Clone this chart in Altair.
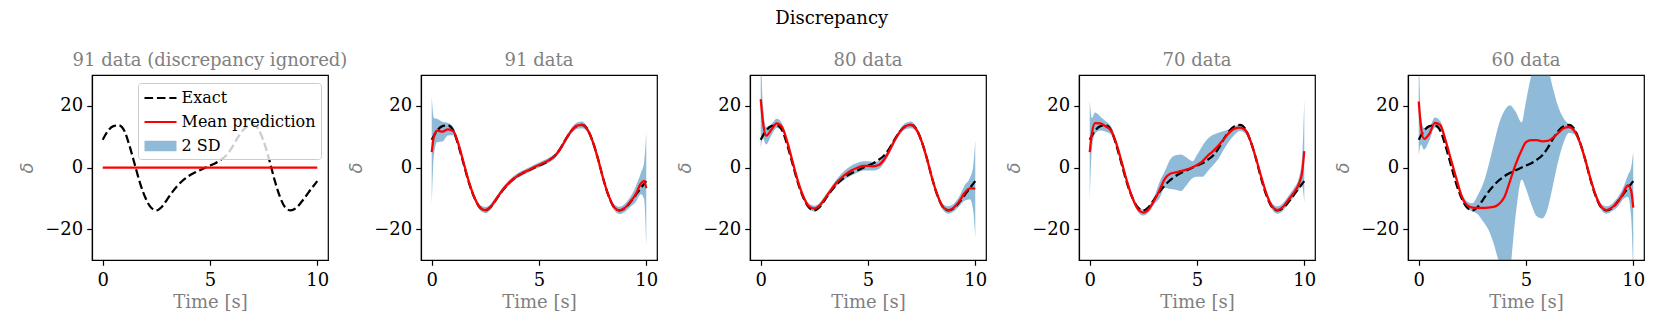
import altair as alt
import pandas as pd

# ---------------- data ----------------
T = [0, 0.1, 0.25, 0.5, 0.75, 1.0, 1.25, 1.5, 1.75, 2.0, 2.25, 2.5, 2.75, 3.0,
     3.25, 3.5, 3.75, 4.0, 4.25, 4.5, 4.8, 5.0, 5.25, 5.5, 5.75, 6.0, 6.25, 6.5,
     6.75, 7.0, 7.25, 7.5, 7.75, 8.0, 8.25, 8.5, 8.75, 9.0, 9.25, 9.5, 9.75, 9.9, 10.0]

EXACT = [9.0, 10.3, 11.9, 13.4, 13.7, 12.0, 7.0, 0.8, -5.3, -10.0, -13.0, -13.9, -12.8,
         -10.4, -7.9, -5.8, -4.1, -2.8, -1.8, -1.0, 0.0, 0.6, 1.4, 2.5, 3.9, 6.2, 9.2,
         11.8, 13.4, 13.8, 12.5, 8.5, 2.8, -3.8, -9.3, -12.9, -13.9, -13.2, -11.3, -9.0,
         -6.6, -5.3, -4.4]

# panel 1: discrepancy ignored -> mean prediction is zero everywhere
MEAN_IGN = [0.0] * len(T)

MEAN_91 = [5.0, 10.0, 12.0, 11.6, 12.4, 11.8, 7.5, 1.2, -5.0, -9.9, -13.0, -13.8, -12.7,
           -10.3, -7.8, -5.7, -4.0, -2.7, -1.7, -0.9, 0.2, 0.8, 1.6, 2.5, 3.8, 6.1, 9.1,
           11.8, 13.5, 13.8, 12.4, 8.5, 2.8, -3.8, -9.2, -12.9, -13.9, -13.1, -11.2, -8.8,
           -5.2, -4.3, -6.7]
LO_91 = [-13.0, 4.0, 8.2, 8.4, 10.4, 10.5, 6.5, 0.3, -5.8, -10.7, -13.9, -14.8, -13.6,
         -11.1, -8.6, -6.5, -4.8, -3.5, -2.5, -1.7, -0.6, 0.0, 0.8, 1.7, 3.0, 5.3, 8.3,
         10.9, 12.5, 12.7, 11.5, 7.7, 2.0, -4.6, -10.0, -13.9, -15.1, -14.4, -12.8, -11.3,
         -8.7, -10.3, -24.9]
HI_91 = [23.0, 16.0, 15.8, 14.8, 14.4, 13.1, 8.5, 2.1, -4.2, -9.1, -12.1, -12.8, -11.8,
         -9.5, -7.0, -4.9, -3.2, -1.9, -0.9, -0.1, 1.0, 1.6, 2.4, 3.3, 4.6, 6.9, 9.9,
         12.7, 14.5, 14.9, 13.3, 9.3, 3.6, -3.0, -8.4, -11.9, -12.7, -11.8, -9.6, -6.3,
         -1.7, 1.7, 11.5]

MEAN_80 = [22.2, 15.0, 10.3, 12.3, 14.3, 13.0, 8.0, 1.5, -4.8, -9.6, -12.6, -13.3, -12.3,
           -10.0, -7.5, -5.2, -3.4, -2.0, -0.9, -0.1, 0.5, 0.5, 0.4, 0.8, 2.6, 5.5, 8.9,
           11.7, 13.4, 13.8, 12.4, 8.5, 2.8, -3.8, -9.2, -12.9, -13.8, -13.0, -11.0, -8.3,
           -6.8, -6.8, -6.9]
LO_80 = [6.2, 9.5, 7.5, 10.5, 12.8, 11.8, 7.0, 0.6, -5.7, -10.5, -13.5, -14.2, -13.2,
         -10.9, -8.4, -6.3, -4.7, -3.5, -2.5, -1.7, -1.0, -1.0, -1.0, -0.5, 1.5, 4.5, 8.0,
         10.8, 12.4, 12.7, 11.5, 7.7, 2.0, -4.6, -10.0, -13.9, -15.0, -14.3, -12.6, -10.8,
         -10.3, -13.8, -22.7]
HI_80 = [38.2, 20.5, 13.1, 14.1, 15.8, 14.2, 9.0, 2.4, -3.9, -8.7, -11.7, -12.4, -11.4,
         -9.1, -6.6, -4.1, -2.1, -0.5, 0.7, 1.5, 2.0, 2.0, 1.8, 2.1, 3.7, 6.5, 9.8,
         12.6, 14.4, 14.9, 13.3, 9.3, 3.6, -3.0, -8.4, -11.9, -12.6, -11.7, -9.4, -5.8,
         -3.3, 0.2, 8.9]

MEAN_70 = [5.0, 11.0, 14.4, 14.3, 13.3, 11.9, 7.6, 1.5, -4.8, -10.0, -13.5, -14.6, -13.5,
           -10.8, -7.4, -3.7, -2.0, -1.6, -1.2, -0.7, 0.1, 0.8, 2.0, 3.8, 5.3, 7.1, 9.2,
           11.3, 12.6, 12.9, 12.1, 8.5, 3.0, -3.2, -8.8, -12.6, -13.8, -12.8, -10.6, -8.3,
           -5.3, -1.5, 5.3]
LO_70 = [-11.4, 6.0, 11.0, 12.0, 11.6, 10.6, 6.6, 0.6, -5.7, -10.9, -14.4, -15.6, -14.5,
         -12.0, -10.0, -6.6, -7.0, -7.2, -7.6, -5.8, -3.4, -3.0, -3.0, -1.2, 0.7, 2.8, 5.8,
         8.5, 10.6, 11.8, 11.0, 7.6, 2.1, -4.1, -9.7, -13.6, -15.0, -14.0, -11.9, -9.8,
         -7.3, -6.0, -11.4]
HI_70 = [21.7, 16.0, 17.8, 16.5, 15.0, 13.2, 8.6, 2.4, -3.9, -9.1, -12.6, -13.6, -12.5,
         -9.6, -4.8, -1.2, 2.6, 4.0, 4.2, 3.3, 2.0, 4.1, 7.0, 9.3, 10.6, 11.3, 11.8,
         12.5, 13.3, 14.0, 13.0, 9.4, 3.9, -2.3, -7.9, -11.6, -12.6, -11.6, -9.3, -6.8,
         -3.3, 3.0, 22.0]

MEAN_60 = [21.4, 13.5, 9.3, 11.0, 14.5, 13.8, 8.8, 2.6, -3.5, -9.3, -12.2, -13.0, -13.1,
           -13.1, -13.0, -12.8, -11.8, -9.5, -4.5, 0.7, 5.7, 8.2, 8.9, 8.9, 8.5, 8.6, 9.6,
           11.2, 12.7, 13.1, 11.9, 8.3, 2.8, -3.5, -9.0, -12.7, -13.8, -13.0, -11.4, -8.8,
           -5.8, -7.5, -13.0]
LO_60 = [3.7, 7.5, 5.8, 8.8, 13.0, 12.5, 7.8, 1.7, -4.4, -10.3, -13.4, -14.2, -15.2,
         -17.5, -20.2, -24.8, -31.0, -36.0, -33.0, -16.6, -3.9, -6.9, -12.0, -15.8, -16.5,
         -13.5, -6.0, 2.0, 8.0, 11.3, 10.8, 7.4, 1.9, -4.4, -9.9, -13.7, -15.0, -14.2,
         -12.9, -10.5, -9.5, -16.0, -36.0]
HI_60 = [38.0, 17.0, 12.8, 13.2, 16.2, 15.1, 9.8, 3.5, -2.6, -8.3, -11.0, -11.6, -9.0,
         -5.3, 0.6, 7.6, 14.4, 18.5, 20.2, 18.3, 14.6, 21.5, 29.8, 34.0, 36.0, 33.0, 25.9,
         19.8, 16.0, 14.0, 12.9, 9.2, 3.7, -2.6, -8.1, -11.7, -12.6, -11.8, -9.9, -7.0,
         -2.5, 0.0, 5.3]

PANEL_TITLES = ["91 data (discrepancy ignored)", "91 data", "80 data", "70 data", "60 data"]
LEGEND_LABELS = ["Exact", "Mean prediction", "2 SD"]

# ---------------- styling ----------------
FONT = "DejaVu Serif"
GRAY = "#808080"
FS = 18
LW = 2.25
DASH = [8.3, 3.6]
BAND = "#1f77b4"

LEG_COLORS = ["black", "red", "#8fbbd9"]
LEG_SHAPES = [
    "M-1.6,-0.11H-0.74V0.11H-1.6Z M-0.36,-0.11H0.5V0.11H-0.36Z M0.88,-0.11H1.6V0.11H0.88Z",
    "M-1.6,-0.11H1.6V0.11H-1.6Z",
    "M-1.6,-0.52H1.6V0.52H-1.6Z",
]

XSCALE = alt.Scale(domain=[-0.5, 10.5], nice=False, zero=False)
YSCALE = alt.Scale(domain=[-30, 30], nice=False, zero=False)


def x_enc():
    return alt.X("t:Q", scale=XSCALE,
                 axis=alt.Axis(values=[0, 5, 10], title="Time [s]", format="d",
                               labelPadding=6, titlePadding=4))


def y_enc(field):
    return alt.Y(f"{field}:Q", scale=YSCALE,
                 axis=alt.Axis(values=[-20, 0, 20], title="δ", format="d",
                               titleFont="DejaVu Sans", titleFontStyle="italic"))


def panel(title, mean, lo=None, hi=None, legend=False):
    df = pd.DataFrame({"t": T, "exact": EXACT, "mean": mean})
    if lo is not None:
        df["lo"] = lo
        df["hi"] = hi
    base = alt.Chart(df)
    layers = []
    if lo is not None:
        layers.append(
            base.mark_area(color=BAND, opacity=0.5, interpolate="monotone", clip=True)
            .encode(x=x_enc(), y=y_enc("lo"), y2="hi:Q")
        )
    layers.append(
        base.mark_line(color="black", strokeDash=DASH, strokeWidth=LW,
                       interpolate="monotone", clip=True)
        .encode(x=x_enc(), y=y_enc("exact"))
    )
    layers.append(
        base.mark_line(color="red", strokeWidth=LW, interpolate="monotone", clip=True)
        .encode(x=x_enc(), y=y_enc("mean"))
    )
    if legend:
        leg = alt.Legend(
            title=None, orient="top-right", offset=7.5, padding=5, rowPadding=6,
            symbolSize=400, symbolOffset=7.5, labelOffset=11, symbolStrokeWidth=0,
            symbolOpacity=1, labelFont=FONT, labelFontSize=16, labelColor="black",
            labelLimit=400, fillColor="rgba(255,255,255,0.8)", strokeColor="#cccccc",
            cornerRadius=3, zindex=1,
        )
        layers.append(
            base.transform_filter("false")
            .mark_point(filled=True, opacity=1, size=400, clip=True)
            .encode(
                x=x_enc(), y=y_enc("exact"),
                color=alt.Color("series:N", scale=alt.Scale(domain=LEGEND_LABELS, range=LEG_COLORS), legend=leg),
                shape=alt.Shape("series:N", scale=alt.Scale(domain=LEGEND_LABELS, range=LEG_SHAPES), legend=leg),
            )
        )
    return alt.layer(*layers).properties(
        width=236, height=185,
        title=alt.TitleParams(title, font=FONT, fontSize=FS, color=GRAY,
                              fontWeight="normal", offset=5, limit=500),
    )


charts = [
    panel(PANEL_TITLES[0], MEAN_IGN, legend=True),
    panel(PANEL_TITLES[1], MEAN_91, LO_91, HI_91),
    panel(PANEL_TITLES[2], MEAN_80, LO_80, HI_80),
    panel(PANEL_TITLES[3], MEAN_70, LO_70, HI_70),
    panel(PANEL_TITLES[4], MEAN_60, LO_60, HI_60),
]

chart = (
    alt.hconcat(*charts, spacing=93, bounds="flush")
    .resolve_scale(color="independent", shape="independent")
    .resolve_legend(color="independent", shape="independent")
    .properties(
        title=alt.TitleParams("Discrepancy", font=FONT, fontSize=FS, color="black",
                              fontWeight="normal", anchor="middle", offset=23),
        padding={"left": 10, "top": 2, "right": 5, "bottom": 5},
    )
    .configure_view(stroke="black", strokeWidth=1.2)
    .configure_axis(
        grid=False, labelFont=FONT, labelFontSize=FS, labelColor="black",
        tickColor="black", tickSize=5.25, tickWidth=1.2, domainColor="black",
        domainWidth=1.2, labelPadding=4, titleFont=FONT, titleFontSize=FS,
        titleColor=GRAY, titleFontWeight="normal",
    )
    .configure_axisY(titlePadding=8)
)

chart.save("out.html", embed_options={"renderer": "svg", "actions": False})
